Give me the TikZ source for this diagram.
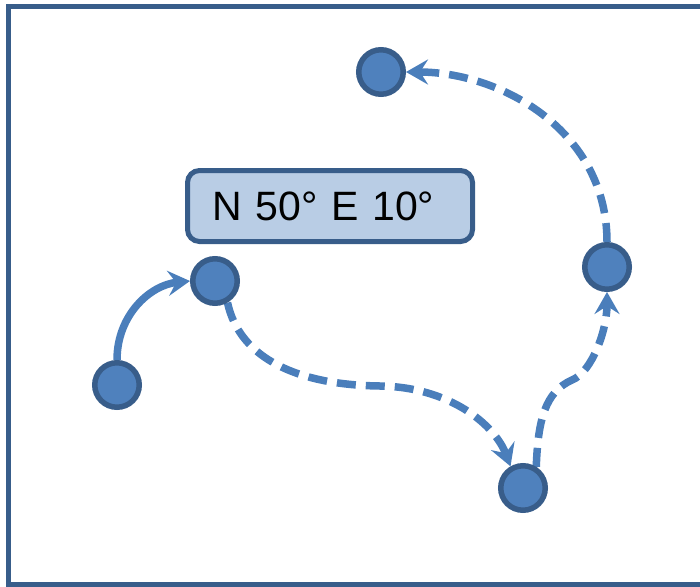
\documentclass[tikz,border=0pt]{standalone}
\usepackage{fontspec}
\setmainfont{Liberation Sans}
\usetikzlibrary{arrows.meta,backgrounds}
\definecolor{nodefill}{HTML}{4F81BD}
\definecolor{nodeborder}{HTML}{385D8A}
\definecolor{linkcol}{HTML}{4A7EBB}
\definecolor{boxfill}{HTML}{B9CDE5}
\begin{document}
\begin{tikzpicture}[x=1pt,y=-1pt,
  pt/.style={circle,fill=nodefill,draw=nodeborder,line width=5.5pt,minimum size=44.5pt,inner sep=0pt},
  lbl/.style={rectangle,rounded corners=12pt,fill=boxfill,draw=nodeborder,line width=5pt,
    minimum width=285pt,minimum height=71pt,inner xsep=25pt,text width=235pt,align=left,
    font=\fontsize{41}{49}\selectfont},
  link/.style={draw=linkcol,line width=7.5pt,-{Stealth[length=22pt,width=25pt,inset=8pt]}},
  dlink/.style={link,dash pattern=on 19pt off 10pt}]
\useasboundingbox (0,0) rectangle (700,586);
\draw[nodeborder,line width=5.5pt] (8.5,6.5) rectangle (712,585);
\node[pt] (A) at (117,385) {};
\node[pt] (B) at (215,281) {};
\node[pt] (C) at (523,488) {};
\node[pt] (D) at (607,267) {};
\node[pt] (E) at (381,72) {};
\node[lbl] (L) at (330,206) {N 50° E 10°};
\begin{scope}[on background layer]
\draw[link] (A.north) .. controls (117,315) and (150,285) .. (B.west);
\draw[dlink] (B.-60) .. controls (240,360) and (300,385) .. (380,386)
   .. controls (450,387) and (495,425) .. (C.120);
\draw[dlink] (C.58) .. controls (538,420) and (545,392) .. (572,380)
   .. controls (592,372) and (607,330) .. (D.south);
\draw[dlink] (D.north) .. controls (607,130) and (500,72) .. (E.east);
\end{scope}
\end{tikzpicture}
\end{document}
